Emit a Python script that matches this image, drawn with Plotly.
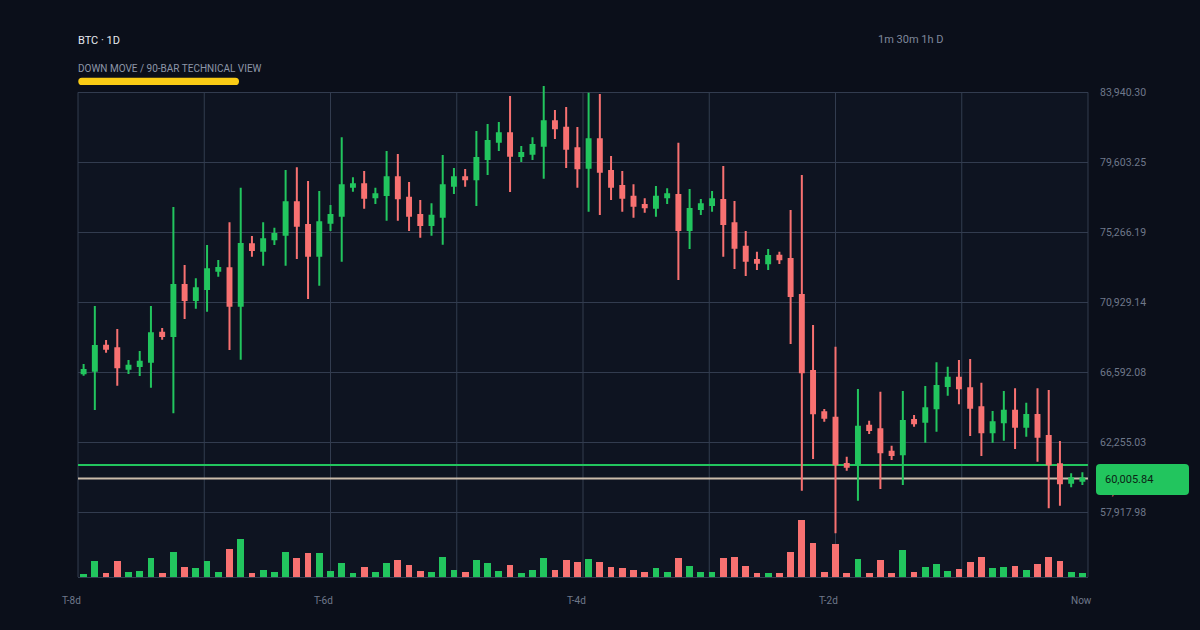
import plotly.graph_objects as go

# ---------------- data ----------------
opens = [66530, 66695, 68244, 68079, 66819, 66984, 67253, 69049, 68843, 72003,
         71074, 71755, 72891, 73035, 70722, 74522, 74130, 74832, 75121, 77125,
         75720, 73820, 75865, 76298, 78095, 78240, 77434, 77579, 78673, 77414,
         76340, 75720, 76236, 78157, 78673, 78549, 79809, 80883, 81400, 79995,
         80140, 80635, 82143, 81751, 80470, 79272, 81028, 79066, 78136, 77475,
         76959, 76794, 77434, 77579, 75410, 76711, 76959, 77269, 75823, 74377,
         73551, 73345, 73820, 73613, 71383, 66674, 64113, 63783, 60912, 60891,
         63287, 63060, 61676, 61511, 63638, 63535, 64361, 65745, 66261, 65600,
         64423, 62874, 63494, 64216, 63225, 63948, 62647, 60891, 59755, 59880]
highs = [67108, 70702, 68595, 69276, 67356, 67914, 70702, 69338, 76836, 73242,
         72416, 74481, 73551, 75885, 78033, 75038, 75885, 75555, 79128, 79293,
         78446, 77827, 76960, 81152, 78673, 79066, 78033, 80305, 80119, 78384,
         77269, 77062, 80057, 79252, 79190, 81544, 81978, 82102, 83713, 80615,
         81152, 84332, 82845, 83031, 81792, 83919, 83837, 79995, 79066, 78240,
         77372, 78136, 77992, 80821, 77951, 77331, 77827, 79376, 77207, 75348,
         74068, 74233, 74068, 76649, 78818, 69524, 64319, 68182, 61366, 65559,
         63597, 65393, 62048, 65435, 63948, 65745, 67211, 66942, 67356, 67417,
         65951, 64196, 65435, 65600, 64712, 65600, 65497, 62337, 60333, 60396]
lows = [66385, 64258, 67810, 65765, 66488, 66364, 65641, 68615, 64051, 69896,
        70536, 70350, 72519, 67975, 67376, 73758, 73200, 74481, 73200, 73613,
        71135, 71961, 75348, 73448, 77785, 76732, 77021, 75989, 75989, 75348,
        74935, 75059, 74501, 77641, 78095, 76897, 78818, 80305, 77765, 79624,
        79747, 78591, 81049, 79252, 78033, 76546, 76340, 77269, 76546, 76174,
        76484, 76236, 77021, 72312, 74233, 76340, 76546, 73758, 72994, 72560,
        72932, 72932, 73304, 68347, 59259, 61222, 63535, 56616, 60499, 58640,
        62770, 59363, 61160, 59611, 63225, 62233, 62915, 65146, 64609, 62647,
        61407, 62233, 62357, 61841, 62605, 61056, 58165, 58330, 59466, 59611]
closes = [66736, 68223, 68058, 66901, 67005, 67253, 69008, 68843, 72003, 71074,
          71796, 72974, 73056, 70722, 74543, 74171, 74832, 75162, 77125, 75679,
          73820, 75885, 76340, 78178, 78240, 77414, 77620, 78673, 77372, 76298,
          75720, 76298, 78178, 78673, 78549, 79871, 80925, 81400, 80016, 80181,
          80677, 82143, 81710, 80450, 79231, 81028, 79024, 78095, 77414, 76918,
          76814, 77475, 77620, 75410, 76711, 77001, 77310, 75782, 74316, 73510,
          73386, 73800, 73593, 71321, 66591, 64051, 63783, 60891, 60746, 63225,
          63018, 61635, 61470, 63576, 63432, 64361, 65745, 66261, 65600, 64402,
          62874, 63494, 64216, 63225, 63948, 62605, 60891, 59714, 60023, 60005.84]
volumes = [8, 47, 12, 47, 15, 18, 56, 12, 74, 29, 26, 47, 15, 83, 113, 12, 20, 15, 74, 56,
           71, 71, 17, 41, 11, 29, 14, 41, 50, 35, 17, 14, 59, 20, 14, 50, 41, 17, 35, 11,
           20, 56, 20, 50, 44, 53, 44, 29, 26, 20, 14, 26, 14, 56, 32, 14, 14, 56, 59, 32,
           11, 11, 11, 74, 170, 101, 14, 98, 11, 53, 11, 50, 11, 80, 14, 29, 38, 17, 23, 44,
           59, 26, 29, 32, 20, 38, 59, 47, 14, 11]

price_ticks = [57917.98, 62255.03, 66592.08, 70929.14, 75266.19, 79603.25, 83940.30]
time_labels = ["T-8d", "T-6d", "T-4d", "T-2d", "Now"]
last_price = 60005.84
level_price = 60850
hidden_label_price = 59237.46
timeframes = "1m 30m 1h D"
title_text = "BTC · 1D"
subtitle_text = "DOWN MOVE / 90-BAR TECHNICAL VIEW"

# ---------------- style ----------------
GREEN = "#22c55e"
RED = "#f87171"
YELLOW = "#facc15"
BEIGE = "#cbbcab"
PAPER = "#0b0f1a"
PANEL = "#0e1421"
GRID = "#323c4f"
DIM = "#6f788a"
FONT = "Roboto"

n = len(opens)
xs = list(range(n))
step = price_ticks[1] - price_ticks[0]
y_min = price_ticks[0] - 0.924 * step
y_max = price_ticks[-1] + 0.176 * step
vol_colors = [GREEN if c >= o else RED for o, c in zip(opens, closes)]

fig = go.Figure()

fig.add_trace(go.Bar(x=xs, y=volumes, marker=dict(color=vol_colors, line=dict(width=0)),
                     width=0.6, yaxis="y2", hoverinfo="skip", showlegend=False))

fig.add_trace(go.Candlestick(
    x=xs, open=opens, high=highs, low=lows, close=closes,
    increasing=dict(line=dict(color=GREEN, width=2), fillcolor=GREEN),
    decreasing=dict(line=dict(color=RED, width=2), fillcolor=RED),
    whiskerwidth=0, showlegend=False, hoverinfo="skip"))

# helper trace so the hidden price label axis renders
fig.add_trace(go.Scatter(x=[xs[0]], y=[hidden_label_price], yaxis="y3", mode="markers",
                         marker=dict(opacity=0), showlegend=False, hoverinfo="skip"))


def rounded(x0, x1, y0, y1, r):
    return (f"M {x0 + r},{y0} L {x1 - r},{y0} Q {x1},{y0} {x1},{y0 + r} "
            f"L {x1},{y1 - r} Q {x1},{y1} {x1 - r},{y1} L {x0 + r},{y1} "
            f"Q {x0},{y1} {x0},{y1 - r} L {x0},{y0 + r} Q {x0},{y0} {x0 + r},{y0} Z")


shapes = []
# panel background
shapes.append(dict(type="rect", xref="paper", yref="y", x0=0, x1=1, y0=y_min, y1=price_ticks[-1],
                   fillcolor=PANEL, line=dict(width=0), layer="below"))
# vertical grid lines
for k in range(9):
    shapes.append(dict(type="line", xref="paper", yref="y", x0=k / 8, x1=k / 8,
                       y0=y_min, y1=price_ticks[-1], line=dict(color=GRID, width=1), layer="below"))
# level lines
shapes.append(dict(type="line", xref="paper", yref="y", x0=0, x1=1, y0=level_price, y1=level_price,
                   line=dict(color=GREEN, width=2), layer="between"))
shapes.append(dict(type="line", xref="paper", yref="y", x0=0, x1=1, y0=last_price, y1=last_price,
                   line=dict(color=BEIGE, width=2), layer="between"))
# yellow accent bar
shapes.append(dict(type="path", xref="paper", yref="paper", xsizemode="pixel", ysizemode="pixel",
                   xanchor=0, yanchor=1, path=rounded(0.3, 161, -5, 2.3, 3.6),
                   fillcolor=YELLOW, line=dict(width=0), layer="above"))
# price tag
shapes.append(dict(type="path", xref="paper", yref="y", xsizemode="pixel", ysizemode="pixel",
                   xanchor=1, yanchor=last_price, path=rounded(8, 101, -16.5, 14.5, 4),
                   fillcolor=GREEN, line=dict(width=0), layer="above"))

annotations = [
    dict(text=title_text, xref="paper", yref="paper", x=0, y=1.0795, xanchor="left", yanchor="middle",
         xshift=-2, showarrow=False, font=dict(family=FONT, size=11, color="#e6e9ef")),
    dict(text=subtitle_text, xref="paper", yref="paper", x=0, y=1.0241, xanchor="left", yanchor="middle",
         xshift=-2, showarrow=False, font=dict(family=FONT, size=10, color="#8d96a8")),
    dict(text=timeframes, xref="paper", yref="paper", x=(878 - 78) / 1010, y=1.0805, xanchor="left",
         yanchor="middle", xshift=-2, showarrow=False, font=dict(family=FONT, size=11, color="#7f889a")),
    dict(text=f"{last_price:,.2f}", xref="paper", yref="y", x=1, y=last_price, xanchor="left",
         yanchor="middle", xshift=15, yshift=-1, showarrow=False,
         font=dict(family=FONT, size=11, color="#0b2415")),
]
for k, lab in enumerate(time_labels):
    annotations.append(dict(text=lab, xref="paper", yref="paper", x=k / 4, y=-0.0463, xshift=-7,
                            xanchor="center", yanchor="middle", showarrow=False,
                            font=dict(family=FONT, size=10, color=DIM)))

fig.update_layout(
    width=1200, height=630, autosize=False,
    margin=dict(l=78, r=112, t=80, b=53, pad=0),
    paper_bgcolor=PAPER, plot_bgcolor=PAPER,
    showlegend=False, hovermode=False,
    bargap=0,
    boxgap=0.5,
    xaxis=dict(range=[-0.5, n - 0.5], showgrid=False, zeroline=False, showticklabels=False,
               ticks="", showline=True, linecolor=GRID, linewidth=1, rangeslider=dict(visible=False),
               fixedrange=True),
    yaxis=dict(range=[y_min, y_max], side="right", tickvals=price_ticks,
               ticktext=[f"{v:,.2f}" for v in price_ticks], showgrid=True, gridcolor=GRID,
               gridwidth=1, zeroline=False, ticks="", ticklabelstandoff=11,
               tickfont=dict(family=FONT, size=10.5, color=DIM), fixedrange=True),
    yaxis2=dict(range=[0, max(volumes) / 0.1147], overlaying="y", visible=False, fixedrange=True),
    yaxis3=dict(range=[y_min, y_max], overlaying="y", side="right", showgrid=False, zeroline=False,
                tickvals=[hidden_label_price], ticktext=[f"{hidden_label_price:,.2f}"], ticks="",
                ticklabelstandoff=11, tickfont=dict(family=FONT, size=10.5, color=RED),
                fixedrange=True),
    shapes=shapes,
    annotations=annotations,
)

fig.write_html("out.html", config={"displayModeBar": False})
